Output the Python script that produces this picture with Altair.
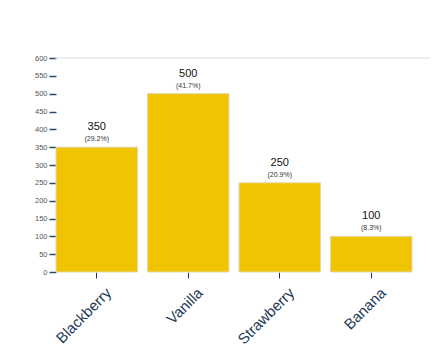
import altair as alt
import pandas as pd

flavors = ["Blackberry", "Vanilla", "Strawberry", "Banana"]
counts = [350, 500, 250, 100]
pct_labels = ["(29.2%)", "(41.7%)", "(20.9%)", "(8.3%)"]
y_ticks = [0, 50, 100, 150, 200, 250, 300, 350, 400, 450, 500, 550, 600]

df = pd.DataFrame({"flavor": flavors, "count": counts, "pct": pct_labels})

x = alt.X("flavor:N", sort=flavors, title=None,
          scale=alt.Scale(paddingInner=0.11, paddingOuter=0),
          axis=alt.Axis(labelAngle=-45, labelFontSize=15, labelColor="#1f3a5a",
                        labelFont="Arial", labelAlign="right", labelBaseline="middle",
                        tickColor="#1f3a5a", tickSize=6, domain=False, labelPadding=12,
                        labelOffset=12))
y = alt.Y("count:Q", title=None,
          scale=alt.Scale(domain=[0, 600], nice=False),
          axis=alt.Axis(values=y_ticks, labelFontSize=7.5, labelColor="#555555",
                        labelFont="Arial", tickColor="#2a4a6a", tickSize=7,
                        tickWidth=1.5, domain=False, grid=False, labelPadding=2,
                        labelOverlap=False))

base = alt.Chart(df)

bars = base.mark_bar(color="#f0c400", stroke="#e0d8b0", strokeWidth=1).encode(x=x, y=y)

val = base.mark_text(dy=-20, fontSize=11, color="#111111", font="Arial").encode(
    x=x, y=y, text="count:Q")
pct = base.mark_text(dy=-8, fontSize=7, color="#333333", font="Arial").encode(
    x=x, y=y, text="pct:N")

grid = alt.Chart(pd.DataFrame({"count": [600]})).mark_rule(color="#dddddd", strokeWidth=1).encode(
    y=y, x=alt.value(-1), x2=alt.value(374))

chart = alt.layer(grid, bars, val, pct).properties(
    width=356, height=214,
    autosize=alt.AutoSizeParams(type="none"),
    padding={"left": 56, "top": 58, "right": 27, "bottom": 80},
).configure_view(stroke=None)

chart.save("out.html", embed_options={"renderer": "svg", "actions": False})
